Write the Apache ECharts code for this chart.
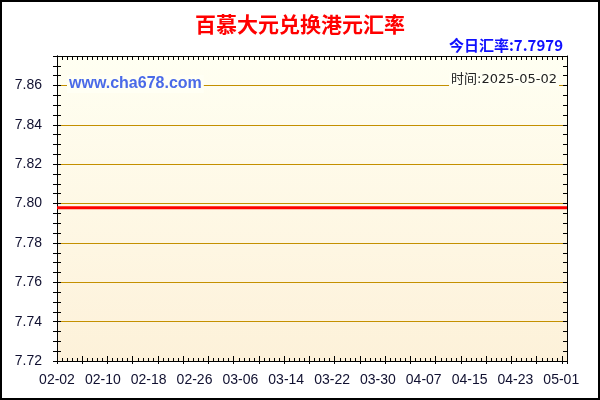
<!DOCTYPE html>
<html>
<head>
<meta charset="utf-8">
<script src="https://cdn.jsdelivr.net/npm/echarts@6/dist/echarts.min.js"></script>
<style>
html,body{margin:0;padding:0;background:#fff;}
#chart{width:600px;height:400px;}
</style>
</head>
<body>
<div id="chart"></div>
<script>
// 标题与说明文字
var chartTitle = '百慕大元兑换港元汇率';
var todayRate = '7.7979';
var updateDate = '2025-05-02';
var siteName = 'www.cha678.com';

// 日期（横轴）
var dates = [
	'02-02','02-03','02-04','02-05','02-06','02-07','02-08','02-09','02-10','02-11',
	'02-12','02-13','02-14','02-15','02-16','02-17','02-18','02-19','02-20','02-21',
	'02-22','02-23','02-24','02-25','02-26','02-27','02-28','03-01','03-02','03-03',
	'03-04','03-05','03-06','03-07','03-08','03-09','03-10','03-11','03-12','03-13',
	'03-14','03-15','03-16','03-17','03-18','03-19','03-20','03-21','03-22','03-23',
	'03-24','03-25','03-26','03-27','03-28','03-29','03-30','03-31','04-01','04-02',
	'04-03','04-04','04-05','04-06','04-07','04-08','04-09','04-10','04-11','04-12',
	'04-13','04-14','04-15','04-16','04-17','04-18','04-19','04-20','04-21','04-22',
	'04-23','04-24','04-25','04-26','04-27','04-28','04-29','04-30','05-01','05-02'
];

// 汇率
var rates = [
	7.7979,7.7979,7.7979,7.7979,7.7979,7.7979,7.7979,7.7979,7.7979,7.7979,
	7.7979,7.7979,7.7979,7.7979,7.7979,7.7979,7.7979,7.7979,7.7979,7.7979,
	7.7979,7.7979,7.7979,7.7979,7.7979,7.7979,7.7979,7.7979,7.7979,7.7979,
	7.7979,7.7979,7.7979,7.7979,7.7979,7.7979,7.7979,7.7979,7.7979,7.7979,
	7.7979,7.7979,7.7979,7.7979,7.7979,7.7979,7.7979,7.7979,7.7979,7.7979,
	7.7979,7.7979,7.7979,7.7979,7.7979,7.7979,7.7979,7.7979,7.7979,7.7979,
	7.7979,7.7979,7.7979,7.7979,7.7979,7.7979,7.7979,7.7979,7.7979,7.7979,
	7.7979,7.7979,7.7979,7.7979,7.7979,7.7979,7.7979,7.7979,7.7979,7.7979,
	7.7979,7.7979,7.7979,7.7979,7.7979,7.7979,7.7979,7.7979,7.7979,7.7979
];

// 纵轴范围
var yMin = 7.72;
var yMax = 7.875;
var yStep = 0.02;

var chart = echarts.init(document.getElementById('chart'));

var black = '#000';
var gridColor = '#c49000';
var labelFont = 'Liberation Sans, Arial, sans-serif';

// 刻度用的辅助轴
function tickAxis(pos, inside, len, minor, minorLen){
	return {
		type : 'value',
		min : 0,
		max : 101,
		interval : 5,
		position : pos,
		axisLine : {show : pos == 'top', onZero : false, lineStyle : {color : black}},
		axisLabel : {show : false},
		splitLine : {show : false},
		axisTick : {show : true, inside : inside, length : len, lineStyle : {color : black}},
		minorTick : {show : minor, splitNumber : 5, length : minorLen, lineStyle : {color : black}}
	};
}

function yAxisOf(pos, inside, labels){
	return {
		type : 'value',
		min : yMin,
		max : yMax,
		interval : yStep,
		position : pos,
		axisLine : {show : true, onZero : false, lineStyle : {color : black}},
		axisTick : {show : true, inside : inside, length : 4, lineStyle : {color : black}},
		minorTick : {show : true, splitNumber : 4, length : 4, lineStyle : {color : black}},
		axisLabel : {
			show : labels,
			showMaxLabel : false,
			margin : 15,
			color : '#101030',
			fontSize : 14,
			fontFamily : labelFont,
			formatter : function(v){ return v.toFixed(2); }
		},
		splitLine : {show : labels, lineStyle : {color : gridColor, width : 1}}
	};
}

var options = {
	animation : false,
	backgroundColor : '#fff',
	title : [
		{
			text : chartTitle,
			left : 'center',
			top : 9,
			textStyle : {color : '#ff0000', fontSize : 21, fontWeight : 'bold', fontFamily : 'Noto Sans CJK SC'}
		},
		{
			text : '今日汇率:' + todayRate,
			right : 32,
			top : 33,
			textStyle : {color : '#1010ff', fontSize : 15, fontWeight : 'bold', fontFamily : 'Noto Sans CJK SC'}
		}
	],
	grid : {
		left : 57,
		right : 33,
		top : 56,
		bottom : 39,
		show : true,
		borderWidth : 0,
		backgroundColor : {
			type : 'linear', x : 0, y : 0, x2 : 0, y2 : 1,
			colorStops : [{offset : 0, color : '#fffff2'}, {offset : 1, color : '#fdf1d9'}]
		}
	},
	xAxis : [
		{
			type : 'category',
			data : dates,
			boundaryGap : false,
			position : 'bottom',
			axisLine : {show : true, onZero : false, lineStyle : {color : black}},
			axisTick : {show : false},
			axisLabel : {interval : 7, margin : 12, color : '#101030', fontSize : 14, fontFamily : labelFont},
			splitLine : {show : false}
		},
		tickAxis('bottom', false, 3, false, 0),
		tickAxis('bottom', true, 5, true, 3),
		tickAxis('top', true, 4, true, 4)
	],
	yAxis : [
		yAxisOf('left', false, true),
		yAxisOf('left', true, false),
		yAxisOf('right', true, false)
	],
	graphic : [
		{
			type : 'rect',
			shape : {x : 1, y : 1, width : 598, height : 398},
			style : {fill : 'none', stroke : black, lineWidth : 2},
			z : 100
		},
		{
			type : 'text',
			left : 67,
			top : 75,
			z : 50,
			style : {
				text : siteName,
				fill : '#4a6ae8',
				font : 'bold 16px Liberation Sans, Arial, sans-serif',
				backgroundColor : '#fffff4',
				padding : [1, 2]
			}
		},
		{
			type : 'text',
			right : 41,
			top : 73,
			z : 50,
			style : {
				text : '时间:' + updateDate,
				fill : '#222',
				font : '13px DejaVu Sans, Noto Sans CJK SC',
				backgroundColor : '#fffff4',
				padding : [0, 2]
			}
		}
	],
	series : [
		{
			name : '汇率',
			type : 'line',
			xAxisIndex : 0,
			yAxisIndex : 0,
			data : rates,
			symbol : 'none',
			lineStyle : {color : '#ff0000', width : 3},
			z : 10
		}
	]
};

chart.setOption(options);
</script>
</body>
</html>
